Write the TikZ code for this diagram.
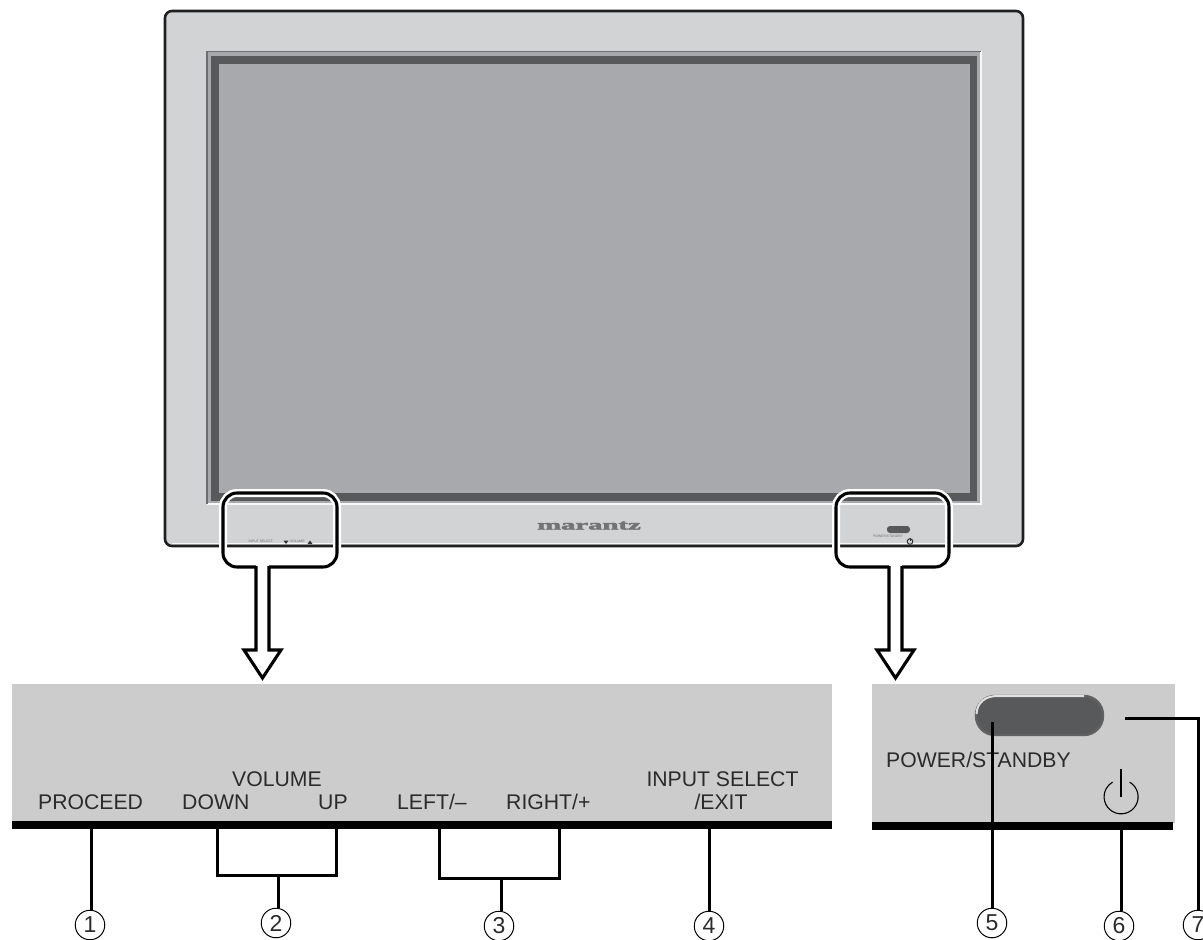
\documentclass[tikz,border=0pt]{standalone}
\usepackage{fontspec}
\setmainfont{Liberation Sans}
\newfontfamily\logofont[FakeBold=2.5]{Liberation Serif}
\definecolor{bodyc}{HTML}{D1D3D4}
\definecolor{panelc}{HTML}{CCCCCC}
\definecolor{screenc}{HTML}{A7A9AC}
\definecolor{darkc}{HTML}{58595B}
\definecolor{framec}{HTML}{6D6E71}
\definecolor{textc}{HTML}{2B2B2B}
\tikzset{
  lbl/.style={anchor=base west,inner sep=0pt,text=textc,font=\fontsize{21.2}{24}\selectfont},
  lblc/.style={anchor=base,inner sep=0pt,text=textc,font=\fontsize{21.2}{24}\selectfont},
  tiny/.style={anchor=base west,inner sep=0pt,text=framec,font=\fontsize{3.4}{4}\selectfont},
  numc/.style={circle,draw=black,line width=1pt,minimum size=29.5pt,inner sep=0pt,font=\fontsize{23}{24}\selectfont,text=textc},
  lead/.style={draw=black,line width=3pt},
  bar/.style={fill=black,draw=none},
}
\newcommand{\callout}[3]{%
  % #1 left x, #2 right x, #3 shaft centre x
  \draw[white,line width=8pt,rounded corners=14pt] (#1,493) rectangle (#2,567);
  \fill[white] ({#3-6.5},565) -- ({#3-6.5},650) -- ({#3-18.5},650) -- (#3,678) -- ({#3+18.5},650) -- ({#3+6.5},650) -- ({#3+6.5},565) -- cycle;
  \draw[black,line width=3.1pt,rounded corners=14pt] ({#3-6.5},567) -- (#1,567) -- (#1,493) -- (#2,493) -- (#2,567) -- ({#3+6.5},567);
  \draw[black,line width=3.1pt,miter limit=10] ({#3+6.5},566) -- ({#3+6.5},650) -- ({#3+18.5},650) -- (#3,678) -- ({#3-18.5},650) -- ({#3-6.5},650) -- ({#3-6.5},566);
}
\begin{document}
\begin{tikzpicture}[x=1pt,y=-1pt]
\useasboundingbox (0,0) rectangle (1203,940);
% TV body
\draw[fill=bodyc,draw=black!88,line width=2.6pt,rounded corners=7pt] (165,11) rectangle (1023,546);
\draw[white!85!bodyc,line width=1pt] (172,543.5) -- (1016,543.5);
% Screen frame
\fill[screenc] (207,51) rectangle (981,504);
\draw[white!85!bodyc,line width=1.4pt] (981,51) -- (981,504) -- (207,504);
\draw[framec,line width=1.6pt] (207,504) -- (207,51.5) -- (981,51.5);
\fill[darkc] (211,56) rectangle (977,501);
\fill[screenc] (219,64) rectangle (970,493);
% TV front marks
\node[anchor=base,inner sep=0pt,text=black!55] (logo) at (589,529.5)
  {\logofont\bfseries\fontsize{14}{14}\selectfont\scalebox{2.05}[1]{marantz}};
\node[tiny] (tvinput) at (248.5,542) {INPUT SELECT};
\node[tiny] (tvvol) at (290,542) {VOLUME};
\fill[black!80] (283.5,540.5) -- (288.5,540.5) -- (286,544) -- cycle;
\fill[black!80] (307.5,544) -- (312.5,544) -- (310,540.5) -- cycle;
\fill[darkc,rounded corners=3pt] (887,526) rectangle (910,533);
\node[tiny] (tvpower) at (873,537.5) {POWER/STANDBY};
\draw[black!80,line width=1pt] (910,541.5) circle (2.8pt);
\draw[black!80,line width=1pt] (910,537.5) -- (910,541);
% Callouts
\callout{223}{337}{262.5}
\callout{836}{949}{895.5}
% Panels
\fill[panelc] (12,684) rectangle (832,822);
\fill[panelc] (872,684) rectangle (1175,823);
\node[bar,inner sep=0pt,minimum width=820pt,minimum height=8pt,anchor=north west] (barL) at (12,821) {};
\node[bar,inner sep=0pt,minimum width=301pt,minimum height=8pt,anchor=north west] (barR) at (872,822) {};
% Power button
\draw[fill=darkc,draw=black!62,line width=2.4pt,rounded corners=19pt] (976,696) rectangle (1103,735);
\draw[white!88!black,line width=2pt] (976.5,714) .. controls (977,702) and (986,696) .. (997,696) -- (1084,696);
% Power icon
\node[circle,minimum size=34pt,inner sep=0pt] (pwr) at (1121,797) {};
\draw[black,line width=1.1pt] (pwr.60) arc[start angle=60,end angle=-240,radius=17pt];
\draw[black,line width=1.3pt] (1121,769) -- (pwr.center);
% Labels
\node[lbl] (proceed) at (38,809) {PROCEED};
\node[lblc] (volume) at (277,786) {VOLUME};
\node[lbl] (down) at (182,809) {DOWN};
\node[lbl] (up) at (318,809) {UP};
\node[lbl] (left) at (397,809) {LEFT/–};
\node[lbl] (right) at (506,809) {RIGHT/+};
\node[lblc] (inp) at (722.5,786) {INPUT SELECT};
\node[lblc] (exit) at (721,809) {/EXIT};
\node[lbl] (pslabel) at (886,767) {POWER/STANDBY};
% Numbers
\node[numc] (n1) at (90,925) {1};
\node[numc] (n2) at (276,923) {2};
\node[numc] (n3) at (499,926) {3};
\node[numc] (n4) at (709,926) {4};
\node[numc] (n5) at (992,923) {5};
\node[numc] (n6) at (1119,926) {6};
\node[numc] (n7) at (1198,925) {7};
% Anchor points
\coordinate (a1) at (91.7,829);
\coordinate (a2l) at (217,829);
\coordinate (a2r) at (336,829);
\coordinate (j2) at (278,875);
\coordinate (a3l) at (439,829);
\coordinate (a3r) at (559,829);
\coordinate (j3) at (501,878);
\coordinate (a4) at (709,829);
\coordinate (a5) at (992,722);
\coordinate (a6) at (1121,830);
\coordinate (a7) at (1125,718);
\coordinate (k7) at (1198,718);
% Leader lines
\draw[lead] (a1) -- (a1 |- n1.north);
\draw[lead,line cap=rect] (a2l) -- (a2l |- j2) -- (a2r |- j2) -- (a2r);
\draw[lead] (j2) -- (j2 |- n2.north);
\draw[lead,line cap=rect] (a3l) -- (a3l |- j3) -- (a3r |- j3) -- (a3r);
\draw[lead] (j3) -- (j3 |- n3.north);
\draw[lead] (a4) -- (n4.north);
\draw[lead] (a5) -- (n5.north);
\draw[lead] (a6) -- (a6 |- n6.north);
\draw[lead] (a7) -- (k7) -- (n7.north);
\end{tikzpicture}
\end{document}
